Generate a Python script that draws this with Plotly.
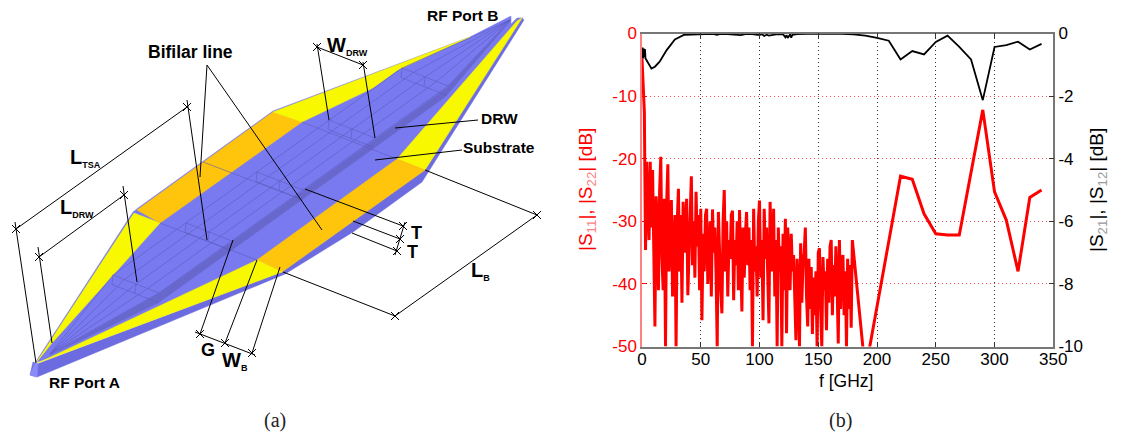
import plotly.graph_objects as go

# ---------- Panel (b) data ----------
freq_dense = list(range(0, 180))
s11_dense = [
    -4, -8.5, -12.5, -34.6, -20.5, -27, -33, -20.5, -31, -21.8,
    -33, -46.8, -26, -29.5, -41, -25, -19.7, -36, -41, -26.4,
    -50, -27, -20.9, -38, -31, -26.6, -42, -33, -29, -50,
    -30, -24.8, -38, -29, -43, -26.9, -35, -31, -26.4, -41.8,
    -33, -29, -22.8, -37, -30, -39, -25.3, -34, -29, -41,
    -28, -45.8, -32, -38, -29, -28, -40, -33, -30, -42,
    -28.1, -35, -31, -38, -50, -28.5, -36, -41, -44.7, -30,
    -25, -38, -30, -42, -33, -36, -29, -28.3, -42.6, -33,
    -37, -30, -41, -28.2, -36, -44.4, -31, -39, -32, -28.5,
    -37, -31, -41, -33, -50, -28, -38, -34, -42, -30,
    -26.7, -39, -33, -45.8, -28, -36, -31, -41, -46.3, -26.9,
    -34, -38, -28, -42, -33, -50, -31, -38, -34, -50,
    -32, -41, -29.6, -47.9, -31, -36, -41, -32, -38, -35.4,
    -44, -49, -36, -41, -50, -33.5, -43, -37, -35, -31,
    -42, -46.8, -36, -44, -37.3, -48, -39, -45, -38, -50,
    -35, -34.3, -44, -50, -35.7, -41, -38, -47.4, -36, -43,
    -34, -33, -45, -37, -42, -34, -40, -49.5, -33, -44,
    -36, -35.4, -45, -38, -50, -36, -44, -37, -47, -33,
]
freq_sparse = [190, 200, 210, 220, 230, 240, 250, 260, 270, 280, 290, 300, 310, 320, 330, 340]
s11_sparse = [-54, -43.4, -33, -22.8, -23.3, -28.8, -32, -32.2, -32.2, -22, -12.2, -25.3, -29.8, -38, -26.2, -25]

freq_s21 = [0, 0.5, 1, 1.5, 2, 2.5, 3, 4.5, 8, 11, 15, 21, 28, 36, 46, 50, 60, 64, 66, 70, 78, 84, 88, 92,
            100, 102, 104, 106, 108, 114, 120, 122, 123, 124, 126, 127, 128, 132, 140, 150, 160, 170, 180, 190,
            200, 210, 220, 230, 240, 250, 260, 270, 280, 290, 300, 310, 320, 330, 340]
s21_vals = [-0.8, -0.45, -0.8, -0.48, -0.75, -0.5, -0.8, -0.9, -1.12, -1.06, -0.9, -0.53, -0.19, -0.04, -0.02, -0.01, -0.01, -0.04, -0.02, -0.01, -0.04, -0.05, -0.02, -0.01,
            -0.05, -0.02, -0.08, -0.04, -0.07, -0.03, -0.02, -0.12, -0.05, -0.14, -0.03, -0.13, -0.04, -0.02, -0.01, -0.01, 0, -0.01, -0.03, -0.07,
            -0.14, -0.23, -0.83, -0.56, -0.67, -0.27, -0.07, -0.43, -0.83, -2.13, -0.43, -0.37, -0.26, -0.51, -0.33]

x_ticks = [0, 50, 100, 150, 200, 250, 300, 350]
left_ticks = [0, -10, -20, -30, -40, -50]
left_labels = ["0", "-10", "-20", "-30", "-40", "-50"]
right_ticks = [0, -2, -4, -6, -8, -10]
right_labels = ["0", "-2", "-4", "-6", "-8", "-10"]

# ---------- Panel (a) data: diagram geometry in its own coordinate system ----------
BLUE, SIDE, STRIP = "#7A7AF0", "#6C6CE0", "#6868CC"
YELLOW, ORANGE = "#F8F800", "#FFC40C"

side_face = [(30, 375), (37, 377), (285, 274), (353, 232), (422, 182), (524, 20), (522, 18), (425, 170), (282, 272), (37, 364), (33, 362)]
top_face = [(35, 363), (133, 212), (138, 208), (273, 111), (470, 37), (511, 16), (511, 24), (517, 18), (523, 18), (425, 170), (282, 272)]
yellow_a = [(36, 363), (134, 213), (160, 223), (115, 273), (52, 343)]
orange_a = [(137, 210), (273, 112), (302, 122), (160, 223)]
yellow_b = [(273, 112), (470, 37), (398, 70), (373, 88), (302, 122)]
yellow_c = [(522, 18), (425, 170), (397, 159), (517, 21)]
orange_b = [(397, 159), (425, 170), (282, 272), (257, 260)]
yellow_d = [(38, 363), (257, 260), (282, 272)]
strip = [(50, 355), (160, 293), (447, 88), (511, 20), (445, 97), (158, 303)]
port_a = [(35, 363), (30, 375), (37, 377), (38, 364)]

block_origins = [(113, 275), (186, 223), (257, 172), (329, 120), (402, 68)]
block_span = (46, 18)
block_drop = (-1, 9.5)
fan_a, fan_b = (50, 354), (510, 20)
block_fracs = [0, 0.25, 0.5, 0.75, 1]

thin_segments = [
    [(160, 223), (257, 260)],
    [(203, 162), (303, 200)],
    [(302, 122), (397, 159)],
]

dim_segments = [
    # L_TSA
    [(16, 229), (187, 107)], [(187, 100), (207, 240)], [(15, 222), (36, 363)],
    # L_DRW
    [(39, 257), (124, 195)], [(123, 186), (137, 282)], [(38, 247), (52, 343)],
    # Bifilar line
    [(207, 65), (200, 177)], [(207, 65), (322, 230)],
    # W_DRW
    [(317, 47), (363, 65)], [(317, 44), (329, 120)], [(363, 62), (375, 138)],
    # DRW and Substrate
    [(395, 128), (478, 120)], [(375, 160), (462, 150)],
    # L_B
    [(425, 170), (537, 215)], [(537, 215), (395, 316)], [(283, 272), (395, 316)],
    # T
    [(305, 189), (403, 226)], [(353, 221), (400, 239)], [(352, 233), (397, 251)], [(405, 222), (395, 255)],
    # G, W_B
    [(233, 240), (200, 334)], [(257, 260), (225, 343)], [(280, 267), (252, 353)], [(195, 332), (255, 355)],
]
dim_marks = [(187, 107), (16, 229), (124, 195), (39, 257), (317, 47), (363, 65), (537, 215), (395, 316),
             (403, 226), (400, 239), (397, 251), (200, 334), (225, 343), (252, 353)]

def sub(main, small, size):
    return f'<b>{main}<sub><span style="font-size:{size}px">{small}</span></sub></b>'

diagram_labels = [
    ("<b>Bifilar line</b>", 190, 52, 17.5), ("<b>RF Port A</b>", 84, 382, 15.5), ("<b>RF Port B</b>", 462, 15, 15.5),
    ("<b>DRW</b>", 499, 118, 15.5), ("<b>Substrate</b>", 499, 147, 15.5), ("<b>T</b>", 416, 233, 18), ("<b>T</b>", 412, 252, 18),
    ("<b>G</b>", 208, 350, 18), (sub("W", "B", 9), 235, 361, 20), (sub("L", "B", 9), 480, 271, 20),
    (sub("L", "TSA", 9), 85, 158, 20), (sub("L", "DRW", 9), 77, 208, 20), (sub("W", "DRW", 9), 347, 46, 20),
]

# ---------- Build ----------
fig = go.Figure()
DIA = dict(xaxis="x3", yaxis="y3", showlegend=False, hoverinfo="skip")

def poly(pts, color):
    fig.add_trace(go.Scatter(x=[p[0] for p in pts] + [pts[0][0]], y=[p[1] for p in pts] + [pts[0][1]],
                             mode="lines", fill="toself", fillcolor=color, line=dict(color=color, width=0.5), **DIA))

def seg(a, b, color, width):
    fig.add_trace(go.Scatter(x=[a[0], b[0]], y=[a[1], b[1]], mode="lines", line=dict(color=color, width=width), **DIA))

poly(side_face, SIDE)
poly(top_face, BLUE)
for p, c in [(yellow_a, YELLOW), (orange_a, ORANGE), (yellow_b, YELLOW), (yellow_c, YELLOW),
             (orange_b, ORANGE), (yellow_d, YELLOW), (strip, STRIP), (port_a, "#8A8AF8")]:
    poly(p, c)

THIN = "#5A5AC0"
for (ox, oy) in block_origins:
    fig.add_trace(go.Scatter(
        x=[ox, ox + block_span[0], None, ox + block_drop[0], ox + block_span[0] + block_drop[0], None, ox, ox + block_drop[0], None,
           ox + block_span[0] / 2, ox + block_span[0] / 2 + block_drop[0]],
        y=[oy, oy + block_span[1], None, oy + block_drop[1], oy + block_span[1] + block_drop[1], None, oy, oy + block_drop[1], None,
           oy + block_span[1] / 2, oy + block_span[1] / 2 + block_drop[1]],
        mode="lines", line=dict(color=THIN, width=0.6), **DIA))
first, last = block_origins[0], block_origins[-1]
for t in block_fracs:
    p = (first[0] + t * block_span[0], first[1] + t * block_span[1])
    q = (last[0] + t * block_span[0], last[1] + t * block_span[1])
    fig.add_trace(go.Scatter(x=[fan_a[0], p[0], q[0], fan_b[0]], y=[fan_a[1], p[1], q[1], fan_b[1]],
                             mode="lines", line=dict(color=THIN, width=0.6), **DIA))
for a, b in thin_segments:
    seg(a, b, THIN, 0.6)
for a, b in dim_segments:
    seg(a, b, "black", 1)
fig.add_trace(go.Scatter(x=[m[0] for m in dim_marks], y=[m[1] for m in dim_marks], mode="markers",
                         marker=dict(symbol="x-thin", size=8, line=dict(color="black", width=1)), **DIA))

fig.add_trace(go.Scatter(x=freq_dense + freq_sparse, y=s11_dense + s11_sparse, mode="lines",
                         line=dict(color="#FF0000", width=3), showlegend=False, yaxis="y"))
fig.add_trace(go.Scatter(x=freq_s21, y=s21_vals, mode="lines",
                         line=dict(color="black", width=1.8), showlegend=False, yaxis="y2"))

ann = []
def paper_text(text, px, py, size, family="Liberation Sans", color="black", angle=0):
    ann.append(dict(text=text, x=px / 1121, y=1 - py / 438, xref="paper", yref="paper", showarrow=False,
                    xanchor="center", yanchor="middle", textangle=angle,
                    font=dict(family=family, size=size, color=color)))

for text, x, y, size in diagram_labels:
    ann.append(dict(text=text, x=x, y=y, xref="x3", yref="y3", showarrow=False, xanchor="center", yanchor="middle",
                    font=dict(family="Liberation Sans", size=size, color="black")))
paper_text("(a)", 275, 420, 20, "Liberation Serif", "#222")
paper_text("(b)", 840, 420, 20, "Liberation Serif", "#222")
paper_text("f [GHz]", 846, 381, 17.5)
paper_text('|S<sub><span style="color:#ff8080">11</span></sub>|, |S<sub><span style="color:#ff8080">22</span></sub>| [dB]',
           587, 190, 19, color="#FF0000", angle=-90)
paper_text('|S<sub><span style="color:#999">21</span></sub>|, |S<sub><span style="color:#999">12</span></sub>| [dB]',
           1098, 190, 19, angle=-90)

dom_x = [642 / 1121, 1053.3 / 1121]
dom_y = [1 - 346.5 / 438, 1 - 33.5 / 438]
tick_font = dict(family="Liberation Sans", size=17)
fig.update_layout(
    width=1121, height=438, margin=dict(l=0, r=0, t=0, b=0, pad=0, autoexpand=False), paper_bgcolor="white", plot_bgcolor="white",
    annotations=ann, showlegend=False,
    xaxis=dict(domain=dom_x, range=[0, 350], tickvals=x_ticks, ticks="inside", ticklen=5, tickcolor="#333", mirror="ticks",
               showline=True, linecolor="#777", linewidth=1.5, showgrid=True, gridcolor="#333", griddash="1px,3px", gridwidth=1,
               tickfont=dict(color="black", **tick_font), zeroline=False, automargin=False, ticklabelstandoff=-4),
    yaxis=dict(domain=dom_y, range=[-50, 0], tickvals=left_ticks, ticktext=left_labels, ticks="inside", ticklen=5, tickcolor="#FF0000",
               showline=True, linecolor="#FF8080", linewidth=1.5, showgrid=True, gridcolor="#FF5050", griddash="1px,3px", gridwidth=1,
               tickfont=dict(color="#FF0000", **tick_font), zeroline=False, automargin=False),
    yaxis2=dict(domain=dom_y, range=[-10, 0], overlaying="y", side="right", anchor="x", tickvals=right_ticks, ticktext=right_labels, ticks="inside",
                ticklen=5, tickcolor="#333", showline=True, linecolor="#777", linewidth=1.5, showgrid=False,
                tickfont=dict(color="black", **tick_font), zeroline=False, automargin=False),
    xaxis3=dict(domain=[0, 570 / 1121], range=[0, 570], visible=False, anchor="y3"),
    yaxis3=dict(domain=[0, 1], range=[438, 0], visible=False, anchor="x3"),
)
fig.write_html("out.html", config=dict(displayModeBar=False), post_script="document.body.style.margin='0';")
